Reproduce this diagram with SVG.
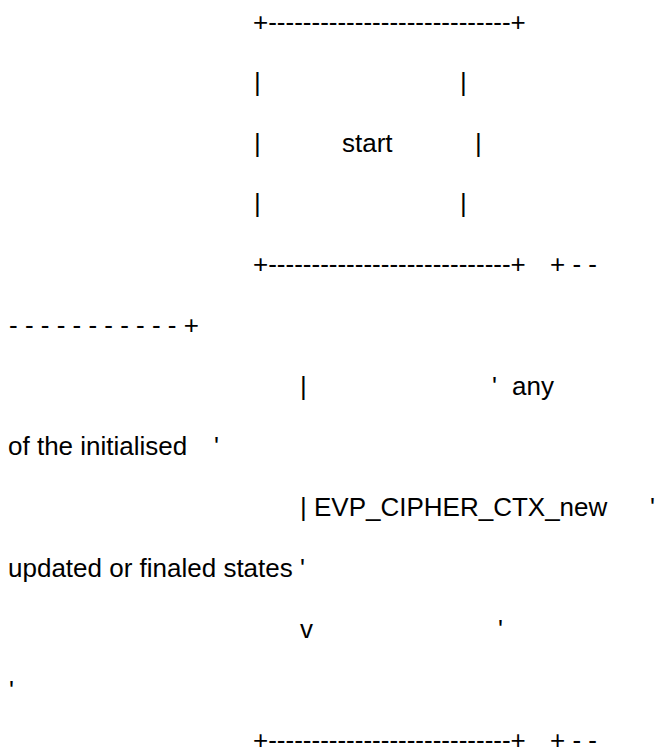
<svg xmlns="http://www.w3.org/2000/svg" width="662" height="755" viewBox="0 0 662 755">
<style>
text{font-family:"Liberation Sans",Arial,sans-serif;font-size:26px;fill:#000;white-space:pre}
</style>
<rect width="662" height="755" fill="#fff"/>
<g id="start">
<text x="253" y="31">+----------------------------+</text>
<text x="254" y="91">|</text><text x="460" y="91">|</text>
<text x="254" y="152">|</text><text x="342" y="152">start</text><text x="475" y="152">|</text>
<text x="254" y="212">|</text><text x="460" y="212">|</text>
<text x="253" y="273">+----------------------------+</text>
</g>
<g id="states">
<text x="550" y="273">+ - -</text>
<text x="9" y="334">- - - - - - - - - - - +</text>
<text x="492" y="395">'</text><text x="512" y="395">any</text>
<text x="8" y="455">of the initialised</text><text x="214" y="455">'</text>
<text x="650" y="516">'</text>
<text x="8" y="577">updated or finaled states '</text>
<text x="498" y="638">'</text>
<text x="9" y="699">'</text>
<text x="550" y="749">+ - -</text>
</g>
<g id="connectors">
<text x="300" y="395">|</text>
<text x="300" y="516">| EVP_CIPHER_CTX_new</text>
<text x="300" y="638">v</text>
</g>
<g id="next">
<text x="253" y="749">+----------------------------+</text>
</g>
</svg>
